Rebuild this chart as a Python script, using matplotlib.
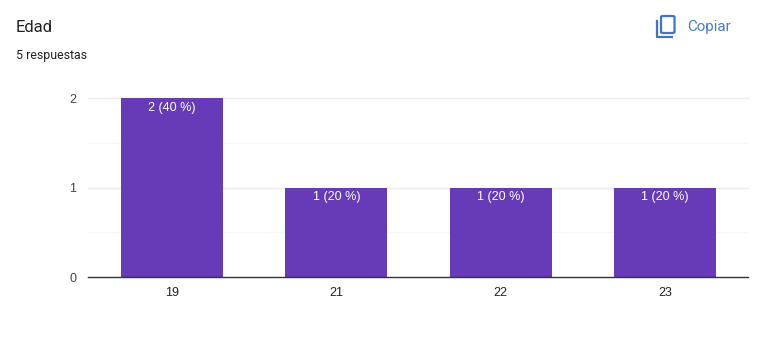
#!/usr/bin/env python3
# bar chart of google forms answers (Edad)

import matplotlib
matplotlib.use('Agg')
import matplotlib.pyplot as plt
from matplotlib.lines import Line2D
from matplotlib.patches import FancyBboxPatch

categories = ['19', '21', '22', '23']
counts = [2, 1, 1, 1]
bar_labels = ['2 (40 %)', '1 (20 %)', '1 (20 %)', '1 (20 %)']
y_ticks = [0, 1, 2]
y_minor = [0.5, 1.5]

W, H = 758, 344

plt.rcParams['font.family'] = ['Roboto', 'Liberation Sans', 'DejaVu Sans']

fig = plt.figure(figsize=(W / 100, H / 100), dpi=100)
ax = fig.add_axes([88 / W, 1 - 277 / H, (748 - 88) / W, (277 - 98.5) / H])

x = range(len(categories))
ax.bar(x, counts, width=0.62, color='#673ab7', zorder=3)
ax.set_xlim(-0.511, 3.505)
ax.set_ylim(0, 2)

# gridlines
for y in y_ticks[1:]:
    ax.axhline(y, color='#ebebeb', lw=1, zorder=1, clip_on=False)
for y in y_minor:
    ax.axhline(y, color='#f6f6f6', lw=1, zorder=1)

for s in ['top', 'right', 'left']:
    ax.spines[s].set_visible(False)
ax.spines['bottom'].set_color('#333333')
ax.spines['bottom'].set_linewidth(1)
ax.spines['bottom'].set_zorder(4)

ax.set_xticks(list(x), categories, fontsize=9, color='#222222', family='Liberation Sans')
ax.set_yticks(y_ticks, [str(t) for t in y_ticks], fontsize=9, color='#444444', family='Liberation Sans')
ax.tick_params(axis='both', length=0)
ax.tick_params(axis='x', pad=7)
ax.tick_params(axis='y', pad=8.5)

for i, (c, lab) in enumerate(zip(counts, bar_labels)):
    ax.annotate(lab, xy=(i, c), xytext=(0, -6.7), textcoords='offset points',
                ha='center', va='center', color='white', fontsize=9,
                family='Liberation Sans', zorder=5)

# header
fig.text(16 / W, 1 - 28 / H, 'Edad', fontsize=12, color='#202124', va='center')
fig.text(16 / W, 1 - 56 / H, '5 respuestas', fontsize=8.9, color='#202124', va='center')
fig.text(687 / W, 1 - 27 / H, 'Copiar', fontsize=10.9, color='#4a7bcf', va='center')

# copy icon
blue = '#3f74c9'
fig.add_artist(FancyBboxPatch((661 / W, 1 - 33 / H), 13.5 / W, 17 / H,
                              boxstyle='round,pad=0,rounding_size=0.003',
                              transform=fig.transFigure, fill=False,
                              ec=blue, lw=1.6))
fig.add_artist(Line2D([656.5 / W, 656.5 / W, 672 / W],
                      [1 - 21 / H, 1 - 36.5 / H, 1 - 36.5 / H],
                      transform=fig.transFigure, color=blue, lw=1.6))

fig.savefig('out.png', dpi=100)
